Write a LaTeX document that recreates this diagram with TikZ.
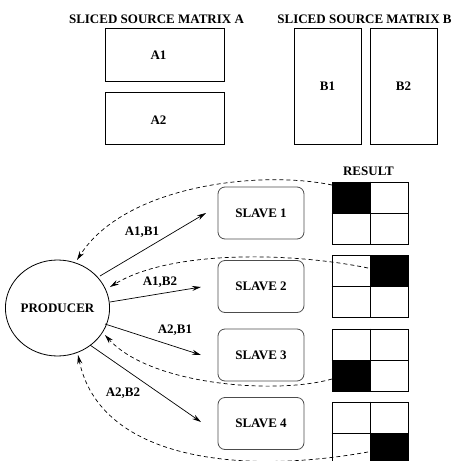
\documentclass[tikz,border=0pt]{standalone}
\usepackage{fontspec}
\setmainfont{Liberation Serif}
\usetikzlibrary{shapes.geometric,arrows.meta}
\tikzset{
  lbl/.style={font=\fontsize{13}{15}\selectfont\bfseries, inner sep=0pt},
  srcbox/.style={draw, line width=0.8pt, inner sep=0pt},
  slavebox/.style={draw=black!70, line width=0.8pt, rounded corners=7pt, inner sep=0pt,
    minimum width=86pt, minimum height=52pt, font=\fontsize{13}{15}\selectfont\bfseries},
  gridbox/.style={draw, line width=0.8pt, inner sep=0pt, minimum width=76pt, minimum height=62pt},
  sendarrow/.style={line width=0.7pt, -{Stealth[length=9pt,width=5pt]}},
  backarrow/.style={line width=0.7pt, dash pattern=on 4pt off 3pt, -{Stealth[length=9pt,width=5pt]}},
}
\begin{document}
\begin{tikzpicture}[x=1pt,y=-1pt]
\useasboundingbox (0,0) rectangle (454,461);
% titles
\node[lbl] (ta) at (156.5,19) {SLICED SOURCE MATRIX A};
\node[lbl] (tb) at (364.5,19) {SLICED SOURCE MATRIX B};
% source boxes
\node[srcbox, minimum width=119pt, minimum height=53pt] (a1) at (164.5,54.5) {};
\node[lbl] (a1t) at (158.5,55) {A1};
\node[srcbox, minimum width=119pt, minimum height=52pt] (a2) at (164.5,118) {};
\node[lbl] (a2t) at (158.5,120) {A2};
\node[srcbox, minimum width=67pt, minimum height=116pt, font=\fontsize{13}{15}\selectfont\bfseries] (b1) at (327.5,86) {B1};
\node[srcbox, minimum width=67pt, minimum height=116pt, font=\fontsize{13}{15}\selectfont\bfseries] (b2) at (403.5,86) {B2};
% producer
\node[ellipse, draw, line width=0.8pt, inner sep=0pt, minimum width=87pt, minimum height=96pt,
  font=\fontsize{13}{15}\selectfont\bfseries] (prod) at (57.5,308) {PRODUCER};
% slaves
\node[slavebox] (s1) at (261,213) {SLAVE 1};
\node[slavebox] (s2) at (261,286.5) {SLAVE 2};
\node[slavebox] (s3) at (261,355) {SLAVE 3};
\node[slavebox] (s4) at (261,423.5) {SLAVE 4};
% result grids
\node[lbl] (res) at (368.5,171) {RESULT};
\node[gridbox] (g1) at (370,213) {};
\node[gridbox] (g2) at (370,286.5) {};
\node[gridbox] (g3) at (370,360) {};
\node[gridbox] (g4) at (370,433) {};
\fill (g1.north west) rectangle (g1.center);
\fill (g2.north) rectangle (g2.east);
\fill (g3.west) rectangle (g3.south);
\fill (g4.center) rectangle (g4.south east);
\foreach \g in {g1,g2,g3,g4}{
  \draw[line width=0.8pt] (\g.north) -- (\g.south) (\g.west) -- (\g.east);
}
% send arrows
\coordinate (p1) at (100,276); \coordinate (e1) at (206,213);
\coordinate (p2) at (110,302); \coordinate (e2) at (201,287);
\coordinate (p3) at (105,324); \coordinate (e3) at (201,355);
\coordinate (p4) at (90,345);  \coordinate (e4) at (201,422);
\draw[sendarrow] (p1) -- (e1);
\draw[sendarrow] (p2) -- (e2);
\draw[sendarrow] (p3) -- (e3);
\draw[sendarrow] (p4) -- (e4);
\node[lbl] (l1) at (142,232) {A1,B1};
\node[lbl] (l2) at (160,282) {A1,B2};
\node[lbl] (l3) at (175,330) {A2,B1};
\node[lbl] (l4) at (123,393) {A2,B2};
% return arrows
\coordinate (r1) at (332,185); \coordinate (q1) at (77,260);
\coordinate (r2) at (368,268); \coordinate (q2) at (110,287);
\coordinate (r3) at (332,379); \coordinate (q3) at (105,335);
\coordinate (r4) at (368,452); \coordinate (q4) at (78,355);
\draw[backarrow] (r1) .. controls (260,170) and (125,185) .. (q1);
\draw[backarrow] (r2) .. controls (290,252) and (170,250) .. (q2);
\draw[backarrow] (r3) .. controls (275,395) and (150,385) .. (q3);
\draw[backarrow] (r4) .. controls (240,475) and (100,460) .. (q4);
\end{tikzpicture}
\end{document}
